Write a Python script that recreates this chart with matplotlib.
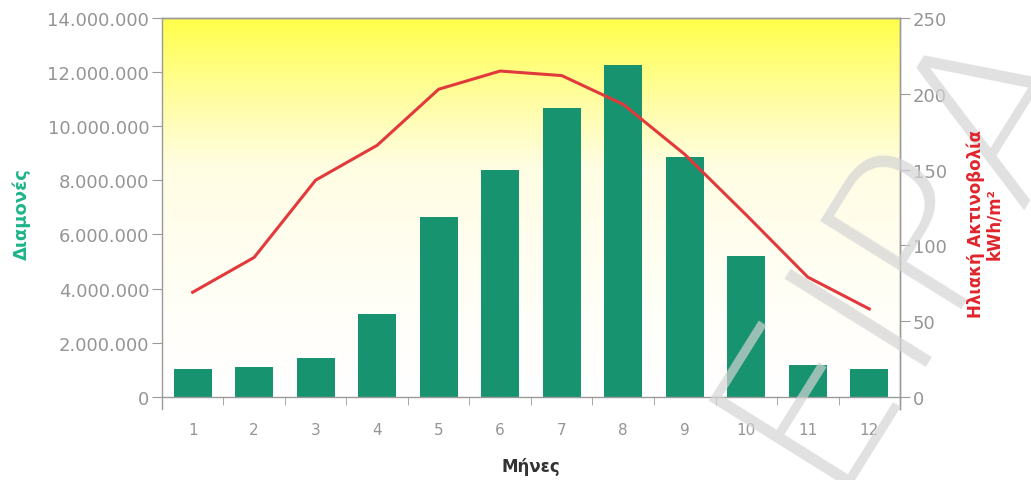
import numpy as np
import matplotlib
matplotlib.use("Agg")
import matplotlib.pyplot as plt
from matplotlib.colors import LinearSegmentedColormap
from matplotlib.ticker import FuncFormatter, MultipleLocator

# Monthly overnight stays and solar radiation
months = [1, 2, 3, 4, 5, 6, 7, 8, 9, 10, 11, 12]
stays = [1.03e6, 1.10e6, 1.43e6, 3.07e6, 6.64e6, 8.40e6,
         10.68e6, 12.26e6, 8.87e6, 5.22e6, 1.16e6, 1.03e6]
radiation = [69, 92, 143, 166, 203, 215, 212, 193, 160, 120, 79, 58]

STAYS_MAX = 14e6
RAD_MAX = 250
BELOW = 0.45e6  # axis lines run a little below zero

BAR_COLOR = "#17936f"
LINE_COLOR = "#e2393c"
TICK_COLOR = "#959595"
SPINE_COLOR = "#9a9a9a"


def dotted_thousands(v, pos):
    return f"{int(round(v)):,}".replace(",", ".")


fig = plt.figure(figsize=(10.31, 4.81), dpi=100)
ax = fig.add_axes([0.157, 0.1476, 0.716, 0.8129])
ax2 = ax.twinx()

# yellow-to-white background wash over the plotting area
grad = np.linspace(1, 0, 256).reshape(-1, 1) ** 1.4
cmap = LinearSegmentedColormap.from_list("wash", ["#ffffff", "#fffde2", "#ffff4a"])
ax.imshow(grad, cmap=cmap, aspect="auto", extent=[0.5, 12.5, 0, STAYS_MAX],
          zorder=0, interpolation="bicubic")

ax.bar(months, stays, width=0.62, color=BAR_COLOR, zorder=2)
ax2.plot(months, radiation, color=LINE_COLOR, lw=2.2, zorder=3)

ax.set_xlim(0.5, 12.5)
ax.set_ylim(-BELOW, STAYS_MAX)
ax2.set_ylim(-BELOW / STAYS_MAX * RAD_MAX, RAD_MAX)
ax.set_zorder(ax2.get_zorder() - 1)
ax2.patch.set_visible(False)

for a in (ax, ax2):
    for s in a.spines.values():
        s.set_color(SPINE_COLOR)
        s.set_linewidth(1.0)
    a.spines["bottom"].set_position(("data", 0))

ax.spines["left"].set_bounds(-BELOW, STAYS_MAX)
ax2.spines["bottom"].set_visible(False)
ax2.spines["left"].set_visible(False)

ax.set_yticks(np.arange(0, STAYS_MAX + 1, 2e6))
ax.yaxis.set_major_formatter(FuncFormatter(dotted_thousands))
ax2.set_yticks(np.arange(0, RAD_MAX + 1, 50))

ax.set_xticks(months)
ax.xaxis.set_minor_locator(MultipleLocator(1, offset=0.5))
ax.tick_params(axis="x", which="major", length=0, pad=18,
               labelsize=11, labelcolor=TICK_COLOR)
ax.tick_params(axis="x", which="minor", length=6, direction="out",
               color=SPINE_COLOR)
ax.tick_params(axis="y", length=7, color=SPINE_COLOR, labelsize=13,
               labelcolor=TICK_COLOR, pad=2)
ax2.tick_params(axis="y", length=7, color=SPINE_COLOR, labelsize=13,
                labelcolor=TICK_COLOR, pad=2)

fig.text(0.021, 0.555, "Διαμονές", rotation=90, ha="center", va="center",
         color="#1eb48a", fontsize=13, fontweight="bold")
fig.text(0.955, 0.535, "Ηλιακή Ακτινοβολία\nkWh/m²", rotation=90,
         ha="center", va="center", color="#e0252c", fontsize=12,
         fontweight="bold", linespacing=1.0, zorder=12)
fig.text(0.515, 0.03, "Μήνες", ha="center", va="center",
         color="#333333", fontsize=12, fontweight="bold")

# light diagonal watermark lettering
fig.text(0.875, 0.5, "ΕΙΡΑ", rotation=58, ha="center", va="center",
         fontsize=165, color="#d4d4d4", alpha=0.7, fontweight="light",
         zorder=10)

fig.savefig("out.png", dpi=100)
